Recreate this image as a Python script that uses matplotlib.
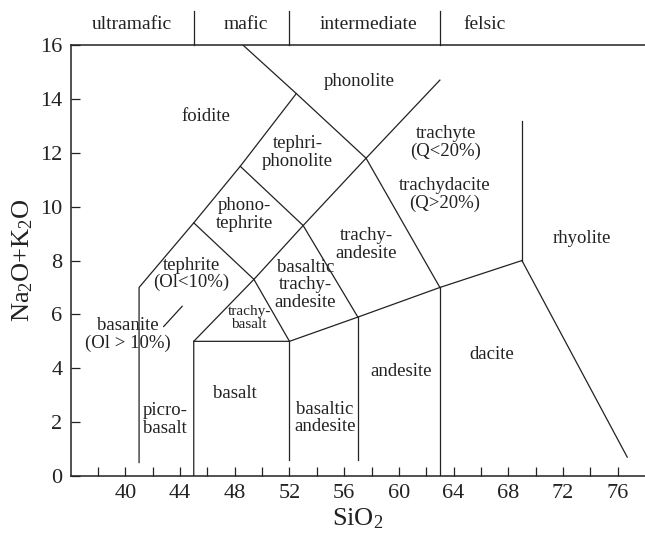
import matplotlib
matplotlib.use("Agg")
import matplotlib.pyplot as plt

plt.rcParams['font.family'] = ['Liberation Serif', 'DejaVu Serif']
plt.rcParams['mathtext.fontset'] = 'custom'
plt.rcParams['mathtext.rm'] = 'Liberation Serif'

########################################################
# DATA
########################################################

# field boundaries (SiO2, Na2O+K2O)
boundaries = [
    [(41, 0.5), (41, 7), (45, 9.4), (48.4, 11.5), (52.5, 14.2), (48.6, 16)],
    [(45, 0), (45, 5), (49.4, 7.3), (53, 9.3), (57.6, 11.8), (63, 14.7)],
    [(45, 9.4), (49.4, 7.3), (52, 5)],
    [(48.4, 11.5), (53, 9.3), (57, 5.9)],
    [(52.5, 14.2), (57.6, 11.8), (63, 7)],
    [(45, 5), (52, 5), (57, 5.9), (63, 7), (69, 8)],
    [(52, 0.6), (52, 5)],
    [(57, 0.6), (57, 5.9)],
    [(63, 0), (63, 7)],
    [(69, 8), (69, 13.2)],
    [(69, 8), (76.7, 0.7)],
    [(42.8, 5.55), (44.15, 6.3)],
]

field_names = [
    "foidite", "phonolite", "tephri-\nphonolite", "phono-\ntephrite",
    "tephrite\n(Ol<10%)", "basanite\n(Ol > 10%)", "trachyte\n(Q<20%)",
    "trachydacite\n(Q>20%)", "trachy-\nandesite", "basaltic\ntrachy-\nandesite",
    "basalt", "picro-\nbasalt", "basaltic\nandesite", "andesite", "dacite",
    "rhyolite",
]
field_x = [45.9, 57.1, 52.6, 48.7, 44.8, 40.2, 63.45, 63.35, 57.6, 53.15,
           48.0, 42.9, 54.6, 60.2, 66.8, 73.4]
field_y = [13.36, 14.66, 12.0, 9.7, 7.5, 5.24, 12.37, 10.45, 8.6, 7.1,
           3.07, 2.1, 2.15, 3.87, 4.5, 8.8]

small_name = "trachy-\nbasalt"
small_x, small_y = 49.05, 5.87

group_names = ["ultramafic", "mafic", "intermediate", "felsic"]
group_x = [40.5, 48.8, 57.8, 66.3]
group_dividers = [45, 52, 63]

########################################################
# PLOT
########################################################

fig = plt.figure(figsize=(6.45, 5.42), dpi=100)
ax = fig.add_axes([0.1096, 0.1218, 0.8904, 0.795])

for line in boundaries:
    xs = [p[0] for p in line]
    ys = [p[1] for p in line]
    ax.plot(xs, ys, color='#222222', lw=0.9, solid_joinstyle='miter')

for name, x, y in zip(field_names, field_x, field_y):
    ax.text(x, y, name, ha='center', va='center', fontsize=13.5,
            color='#222222', linespacing=1.05)

ax.text(small_x, small_y, small_name, ha='center', va='center',
        fontsize=11, color='#222222', linespacing=0.95)

for x in group_dividers:
    ax.plot([x, x], [16, 17.25], color='#222222', lw=0.9, clip_on=False)

for name, x in zip(group_names, group_x):
    ax.text(x, 16.78, name, ha='center', va='center', fontsize=14,
            color='#222222')

ax.set_xlim(36, 78)
ax.set_ylim(0, 16)

ax.spines['right'].set_visible(False)
for s in ['left', 'bottom', 'top']:
    ax.spines[s].set_linewidth(1.1)
    ax.spines[s].set_color('#222222')

ax.set_xticks(range(40, 77, 4))
ax.set_xticks(range(38, 77, 2), minor=True)
ax.set_yticks(range(0, 17, 2))

ax.tick_params(axis='both', which='both', direction='in', length=6.5,
               width=0.9, color='#222222', labelsize=16, labelcolor='#222222')
ax.tick_params(axis='x', which='both', top=False, pad=6)
ax.tick_params(axis='y', which='both', right=False, pad=6)

ax.set_xlabel(r"$\mathregular{SiO_2}$", fontsize=19, color='#222222',
              labelpad=2)
ax.set_ylabel(r"$\mathregular{Na_2O{+}K_2O}$", fontsize=19,
              color='#222222', labelpad=4)

fig.savefig("out.png", dpi=100)
